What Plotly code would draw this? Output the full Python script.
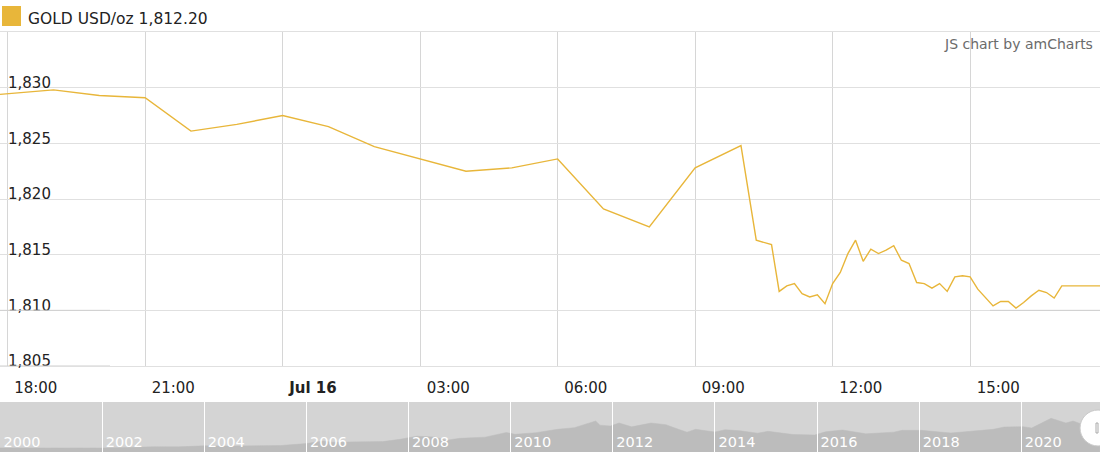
import plotly.graph_objects as go

# ── palette / fonts ──────────────────────────────────────────────────────────
GOLD = "#e8b63a"
GRID = "#e0e0e0"
VGRID = "#d6d6d6"
TXT = "#222222"
CREDIT = "#6b6b6b"
SCROLL_BG = "#d4d4d4"
SCROLL_AREA = "#bcbcbc"
FONT = "DejaVu Sans, Verdana, sans-serif"

W, H = 1100, 461

# ── intraday gold price (USD/oz), 15-16 Jul 2021 ────────────────────────────
times = [
    "2021-07-15 17:50", "2021-07-15 19:00", "2021-07-15 20:00", "2021-07-15 21:00",
    "2021-07-15 22:00", "2021-07-15 23:00", "2021-07-16 00:00", "2021-07-16 01:00",
    "2021-07-16 02:00", "2021-07-16 04:00", "2021-07-16 05:00", "2021-07-16 06:00",
    "2021-07-16 07:00", "2021-07-16 08:00", "2021-07-16 09:00", "2021-07-16 10:00",
    "2021-07-16 10:20", "2021-07-16 10:40", "2021-07-16 10:50", "2021-07-16 11:00",
    "2021-07-16 11:10", "2021-07-16 11:20", "2021-07-16 11:30", "2021-07-16 11:40",
    "2021-07-16 11:50", "2021-07-16 12:00", "2021-07-16 12:10", "2021-07-16 12:20",
    "2021-07-16 12:30", "2021-07-16 12:40", "2021-07-16 12:50", "2021-07-16 13:00",
    "2021-07-16 13:10", "2021-07-16 13:20", "2021-07-16 13:30", "2021-07-16 13:40",
    "2021-07-16 13:50", "2021-07-16 14:00", "2021-07-16 14:10", "2021-07-16 14:20",
    "2021-07-16 14:30", "2021-07-16 14:40", "2021-07-16 14:50", "2021-07-16 15:00",
    "2021-07-16 15:10", "2021-07-16 15:20", "2021-07-16 15:30", "2021-07-16 15:40",
    "2021-07-16 15:50", "2021-07-16 16:00", "2021-07-16 16:10", "2021-07-16 16:20",
    "2021-07-16 16:30", "2021-07-16 16:40", "2021-07-16 16:50", "2021-07-16 17:00",
    "2021-07-16 17:50",
]
prices = [
    1829.4, 1829.8, 1829.3, 1829.1,
    1826.1, 1826.7, 1827.5, 1826.5,
    1824.7, 1822.5, 1822.8, 1823.6,
    1819.1, 1817.5, 1822.8, 1824.8,
    1816.3, 1815.9, 1811.7, 1812.2,
    1812.4, 1811.5, 1811.2, 1811.4,
    1810.6, 1812.4, 1813.4, 1815.1,
    1816.3, 1814.4, 1815.5, 1815.1,
    1815.4, 1815.8, 1814.5, 1814.2,
    1812.5, 1812.4, 1812.0, 1812.4,
    1811.7, 1813.0, 1813.1, 1813.0,
    1811.9, 1811.1, 1810.4, 1810.8,
    1810.8, 1810.2, 1810.7, 1811.3,
    1811.8, 1811.6, 1811.1, 1812.2,
    1812.2,
]
x_range = ["2021-07-15 17:50", "2021-07-16 17:50"]
x_tickvals = [
    "2021-07-15 18:00", "2021-07-15 21:00", "2021-07-16 00:00", "2021-07-16 03:00",
    "2021-07-16 06:00", "2021-07-16 09:00", "2021-07-16 12:00", "2021-07-16 15:00",
]
x_ticktext = ["18:00", "21:00", "<b>Jul 16</b>", "03:00", "06:00", "09:00", "12:00", "15:00"]
y_tickvals = [1805, 1810, 1815, 1820, 1825, 1830]
y_ticktext = ["1,805", "1,810", "1,815", "1,820", "1,825", "1,830"]

# ── long-range history shown in the scrollbar ────────────────────────────────
hist_dates = [
    "2000-01-01", "2000-07-01", "2001-01-01", "2001-07-01", "2002-01-01", "2002-07-01",
    "2003-01-01", "2003-07-01", "2004-01-01", "2004-07-01", "2005-01-01", "2005-07-01",
    "2006-01-01", "2006-05-01", "2006-07-01", "2007-01-01", "2007-07-01", "2007-11-01",
    "2008-03-01", "2008-07-01", "2008-10-01", "2009-01-01", "2009-07-01", "2009-12-01",
    "2010-02-01", "2010-07-01", "2010-12-01", "2011-04-01", "2011-08-01", "2011-09-01",
    "2011-10-01", "2011-12-15", "2012-02-15", "2012-05-15", "2012-10-01", "2013-01-15",
    "2013-04-15", "2013-06-15", "2013-08-15", "2014-01-01", "2014-03-15", "2014-07-01",
    "2014-11-01", "2015-01-15", "2015-07-15", "2015-12-15", "2016-03-01", "2016-07-01",
    "2016-12-15", "2017-07-01", "2017-09-01", "2018-01-15", "2018-08-15", "2019-01-15",
    "2019-06-15", "2019-09-01", "2020-01-15", "2020-03-15", "2020-08-01", "2020-11-15",
    "2021-01-05", "2021-03-15", "2021-06-01", "2021-07-16",
]
hist_prices = [
    285, 280, 265, 268, 282, 305,
    355, 350, 410, 395, 425, 430,
    550, 700, 630, 630, 665, 800,
    990, 940, 750, 860, 930, 1210,
    1100, 1200, 1400, 1500, 1850, 1900,
    1650, 1600, 1780, 1550, 1780, 1680,
    1400, 1230, 1400, 1240, 1380, 1310,
    1170, 1280, 1090, 1060, 1250, 1360,
    1130, 1230, 1340, 1340, 1180, 1290,
    1400, 1540, 1560, 1480, 2060, 1780,
    1900, 1690, 1880, 1812,
]
hist_range = ["2000-01-01", "2021-07-16 18:00"]
year_ticks = [f"{y}-01-01" for y in range(2000, 2021, 2)]
year_labels = [str(y) for y in range(2000, 2021, 2)]

fig = go.Figure()

fig.add_trace(go.Scatter(
    x=times, y=prices, mode="lines",
    line=dict(color=GOLD, width=1.4),
    name="GOLD USD/oz", xaxis="x", yaxis="y",
    hovertemplate="%{x|%H:%M}<br>%{y:,.2f}<extra></extra>",
))

fig.add_trace(go.Scatter(
    x=hist_dates, y=hist_prices, mode="lines",
    line=dict(color=SCROLL_AREA, width=0.5),
    fill="tozeroy", fillcolor=SCROLL_AREA,
    xaxis="x2", yaxis="y2", hoverinfo="skip",
))

# faint darker stubs on a few gridlines (left and right ends)
stub = dict(type="line", xref="paper", yref="y", line=dict(color="#cfcfcf", width=1))

fig.update_layout(
    width=W, height=H,
    paper_bgcolor="white", plot_bgcolor="white",
    margin=dict(l=0, r=0, t=32, b=9),
    showlegend=False,
    font=dict(family=FONT, color=TXT, size=15),
    xaxis=dict(
        domain=[0, 1], anchor="y", type="date", range=x_range,
        tickvals=x_tickvals, ticktext=x_ticktext,
        ticklabelposition="outside right", ticklabelshift=6, ticklabelstandoff=8,
        ticklabeloverflow="allow",
        showgrid=True, gridcolor=VGRID, gridwidth=1,
        zeroline=False, ticks="",
        showline=True, mirror=True, linecolor=GRID, linewidth=1,
        tickfont=dict(size=15, color=TXT),
    ),
    yaxis=dict(
        domain=[86 / 420, 1], anchor="x", range=[1805, 1835],
        tickvals=y_tickvals, ticktext=y_ticktext,
        ticklabelposition="inside", ticklabelshift=-5, ticklabelstandoff=5,
        ticklabeloverflow="allow",
        showgrid=True, gridcolor=GRID, gridwidth=1,
        zeroline=False, showline=False, ticks="",
        tickfont=dict(size=15, color=TXT),
    ),
    xaxis2=dict(
        domain=[0, 1], anchor="y2", type="date", range=hist_range,
        tickvals=year_ticks, ticktext=year_labels,
        ticks="inside", ticklen=50, tickcolor="white", tickwidth=1,
        ticklabelposition="inside right", ticklabelstandoff=-4, ticklabelshift=3,
        ticklabeloverflow="allow",
        showgrid=False, zeroline=False, showline=False,
        tickfont=dict(size=14.5, color="white"),
    ),
    yaxis2=dict(
        domain=[0, 50 / 420], anchor="x2", range=[40, 3040],
        visible=False, showgrid=False, zeroline=False,
    ),
    shapes=[
        # scrollbar background
        dict(type="rect", xref="x2 domain", yref="y2 domain", x0=0, x1=1, y0=0, y1=1,
             fillcolor=SCROLL_BG, line=dict(width=0), layer="below"),
        dict(stub, x0=0, x1=0.1, y0=1810, y1=1810),
        dict(stub, x0=0, x1=0.1, y0=1805, y1=1805),
        dict(stub, x0=0.9, x1=1, y0=1810, y1=1810),
        # legend swatch
        dict(type="rect", xref="paper", yref="paper",
             xsizemode="pixel", ysizemode="pixel", xanchor=0, yanchor=1,
             x0=2, x1=21, y0=6, y1=26, fillcolor=GOLD, line=dict(width=0)),
        # scrollbar grip
        dict(type="circle", xref="paper", yref="paper",
             xsizemode="pixel", ysizemode="pixel", xanchor=1, yanchor=24 / 420,
             x0=-20, x1=16, y0=-18, y1=18,
             fillcolor="white", line=dict(color="#c8c8c8", width=1)),
        dict(type="rect", xref="paper", yref="paper",
             xsizemode="pixel", ysizemode="pixel", xanchor=1, yanchor=24 / 420,
             x0=-4, x1=-2, y0=-5, y1=5,
             fillcolor="white", line=dict(color="#aaaaaa", width=1)),
    ],
    annotations=[
        dict(text="GOLD USD/oz 1,812.20", xref="paper", yref="paper",
             x=26 / W, y=1 + 13 / 420, xanchor="left", yanchor="middle",
             showarrow=False, font=dict(size=15.5, color=TXT)),
        dict(text="JS chart by amCharts", xref="paper", yref="paper",
             x=1, y=(452 - 44) / 420, xanchor="right", yanchor="middle", xshift=-5,
             showarrow=False, font=dict(size=14, color=CREDIT)),
    ],
)

fig.write_html(
    "out.html",
    config={"displayModeBar": False},
    post_script="document.body.style.margin='0';",
)
